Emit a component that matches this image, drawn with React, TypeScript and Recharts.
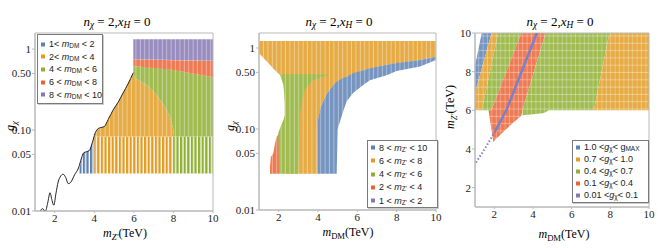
import React from 'react';
import { ComposedChart, Area, Line, XAxis, YAxis, ReferenceArea } from 'recharts';

type Rng = [number, number, number];
type Pt = [number, number];

const C = { blue: '#5E81B5', orange: '#E19C24', green: '#8FB032', red: '#EB6235', purple: '#8778B3' };
const F = { blue: '#7694c0', orange: '#e6ab45', green: '#a0bc51', red: '#ee7a53', purple: '#998cbe' };

const xTicks = [2, 4, 6, 8, 10];
const logTicks = [0.01, 0.05, 0.1, 0.5, 1];
const logTickLabels: Record<string, string> = { '0.01': '0.01', '0.05': '0.05', '0.1': '0.10', '0.5': '0.50', '1': '1' };
const linTicks = [2, 4, 6, 8, 10];

// ---------- Panel 1 : g_chi vs m_Z' (colour = m_DM) ----------
const p1Bound: Pt[] = [
  [1.25, 0.0097], [1.38, 0.0107], [1.52, 0.0099], [1.64, 0.0125], [1.76, 0.0168], [1.86, 0.0135],
  [1.95, 0.0118], [2.06, 0.0165], [2.17, 0.0228], [2.3, 0.027], [2.42, 0.0285], [2.55, 0.026],
  [2.68, 0.0218], [2.8, 0.0225], [3.0, 0.028], [3.2, 0.034], [3.35, 0.045], [3.45, 0.052],
  [3.6, 0.054], [3.75, 0.056], [3.9, 0.07], [4.03, 0.09], [4.15, 0.102], [4.3, 0.107], [4.5, 0.11],
  [4.7, 0.135], [4.95, 0.177], [5.2, 0.22], [5.45, 0.286], [5.7, 0.37], [5.97, 0.51],
];
const p1BlueStripe: Rng[] = [
  [3.25, 0.029, 0.033], [3.35, 0.029, 0.045], [3.45, 0.029, 0.052], [3.6, 0.029, 0.054],
  [3.75, 0.029, 0.056], [3.9, 0.029, 0.07], [4.0, 0.029, 0.085],
];
const p1OrangeStripe: Rng[] = [[4.0, 0.029, 0.083], [8.03, 0.029, 0.083]];
const p1OrangeDense: Rng[] = [
  [4.0, 0.083, 0.085], [4.03, 0.083, 0.09], [4.15, 0.083, 0.102], [4.3, 0.083, 0.107], [4.5, 0.083, 0.11],
  [4.7, 0.083, 0.135], [4.95, 0.083, 0.177], [5.2, 0.083, 0.22], [5.45, 0.083, 0.286], [5.7, 0.083, 0.37],
  [5.97, 0.083, 0.5], [6.06, 0.083, 0.435], [6.65, 0.083, 0.36], [7.15, 0.083, 0.27], [7.57, 0.083, 0.194],
  [7.83, 0.083, 0.146], [8.0, 0.083, 0.1], [8.03, 0.083, 0.083],
];
const p1GreenStripe: Rng[] = [[8.03, 0.029, 0.083], [10, 0.029, 0.083]];
const p1GreenDense: Rng[] = [
  [5.97, 0.5, 0.62], [6.06, 0.435, 0.615], [6.65, 0.36, 0.6], [7.15, 0.27, 0.585], [7.57, 0.194, 0.57],
  [7.83, 0.146, 0.56], [8.0, 0.1, 0.55], [8.03, 0.083, 0.55], [9.0, 0.083, 0.5], [10, 0.083, 0.45],
];
const p1Red: Rng[] = [[5.97, 0.62, 0.75], [8.0, 0.55, 0.73], [10, 0.45, 0.72]];
const p1Purple: Rng[] = [[5.97, 0.75, 1.32], [10, 0.72, 1.32]];

// ---------- Panel 2 : g_chi vs m_DM (colour = m_Z') ----------
const p2Orange: Rng[] = [
  [1.0, 0.86, 1.22], [1.47, 0.65, 1.22], [1.81, 0.53, 1.22], [2.07, 0.465, 1.22], [2.3, 0.465, 1.22],
  [2.32, 0.028, 1.22], [3.98, 0.028, 1.22], [4.0, 0.13, 1.22], [4.19, 0.2, 1.22], [4.44, 0.27, 1.22],
  [4.78, 0.35, 1.22], [5.46, 0.44, 1.22], [6.3, 0.53, 1.22], [7.49, 0.62, 1.22], [9.19, 0.71, 1.22],
  [10, 0.78, 1.22],
];
const p2Blue: Rng[] = [
  [3.98, 0.028, 0.03], [4.0, 0.028, 0.13], [4.1, 0.028, 0.17], [4.19, 0.028, 0.2], [4.44, 0.028, 0.27],
  [4.78, 0.028, 0.35], [4.95, 0.028, 0.38], [5.0, 0.1, 0.39], [5.3, 0.17, 0.43], [5.46, 0.22, 0.44],
  [5.8, 0.28, 0.49], [6.3, 0.35, 0.53], [6.64, 0.4, 0.56], [7.49, 0.46, 0.62], [8.0, 0.52, 0.65],
  [9.19, 0.59, 0.71], [10, 0.71, 0.78],
];
const p2Red: Rng[] = [
  [1.56, 0.028, 0.034], [1.6, 0.028, 0.045], [1.73, 0.028, 0.05], [1.81, 0.028, 0.066],
  [1.9, 0.028, 0.08], [2.0, 0.028, 0.087], [2.02, 0.028, 0.087],
];
const p2GreenLow: Rng[] = [
  [1.98, 0.085, 0.089], [2.02, 0.028, 0.095], [2.07, 0.028, 0.103], [2.24, 0.028, 0.129], [2.32, 0.028, 0.15],
];
const p2GreenTop: Rng[] = [[2.07, 0.46, 0.475], [2.24, 0.35, 0.475], [2.32, 0.21, 0.475]];
const p2GreenMain: Rng[] = [
  [2.32, 0.028, 0.475], [3.0, 0.028, 0.475], [3.08, 0.15, 0.475], [3.17, 0.21, 0.475], [3.34, 0.31, 0.475],
  [3.76, 0.4, 0.475], [4.36, 0.45, 0.475], [4.6, 0.47, 0.475],
];

// ---------- Panel 3 : m_Z' vs m_DM (colour = g_chi) ----------
const p3Blue: Rng[] = [[1.0, 6.9, 8.3], [1.35, 8.16, 10], [1.86, 10, 10]];
const p3OrangeL: Rng[] = [[1.0, 6, 6.9], [1.35, 6, 8.16], [1.86, 8.4, 10], [2.2, 10, 10]];
const p3GreenL: Rng[] = [[1.35, 6, 6], [1.85, 6, 8.35], [2.2, 6.9, 10], [3.4, 10, 10]];
const p3Red: Rng[] = [
  [1.7, 6, 6], [1.85, 5.0, 6], [1.95, 4.35, 6.26], [2.03, 4.47, 6.46], [2.38, 4.8, 7.37], [2.8, 5.2, 8.45],
  [3.2, 5.55, 9.5], [3.4, 5.72, 10], [3.45, 6, 10], [4.65, 10, 10],
];
const p3GreenR: Rng[] = [
  [3.45, 5.75, 6], [4.0, 5.8, 7.83], [4.5, 5.85, 9.5], [4.65, 5.9, 10], [4.8, 6, 10], [7.15, 6, 10], [7.95, 10, 10],
];
const p3OrangeR: Rng[] = [[7.15, 6, 6], [7.95, 6, 10], [10, 6, 10]];
const p3PurpleLow: Pt[] = [[1.05, 3.3], [1.5, 4.0], [2.03, 4.9]];
const p3PurpleHigh: Pt[] = [[2.03, 4.9], [2.62, 6.0], [4.2, 10]];

function buildTable(ranges: Record<string, Rng[]>, lines: Record<string, Pt[]> = {}) {
  const rows: Record<string, any>[] = [];
  Object.entries(ranges).forEach(([k, arr]) => arr.forEach(([x, lo, hi]) => rows.push({ x, [k]: [lo, hi] })));
  Object.entries(lines).forEach(([k, arr]) => arr.forEach(([x, y]) => rows.push({ x, [k]: y })));
  return rows.sort((a, b) => a.x - b.x);
}

const t1 = buildTable(
  { bS: p1BlueStripe, oS: p1OrangeStripe, gS: p1GreenStripe, oD: p1OrangeDense, gD: p1GreenDense, r: p1Red, p: p1Purple },
  { bound: p1Bound },
);
const t2 = buildTable({ o: p2Orange, b: p2Blue, r: p2Red, gL: p2GreenLow, gT: p2GreenTop, gM: p2GreenMain });
const t3 = buildTable(
  { b: p3Blue, oL: p3OrangeL, gL: p3GreenL, r: p3Red, gR: p3GreenR, oR: p3OrangeR },
  { pLo: p3PurpleLow, pHi: p3PurpleHigh },
);

const tickStyle = { fill: '#222', fontSize: 11, fontFamily: '"Liberation Serif", serif' };
const axisStroke = '#b8b8b8';

function area(key: string, fill: string) {
  return (
    <Area key={key} dataKey={key} type="linear" stroke="none" fill={fill} fillOpacity={1}
      connectNulls isAnimationActive={false} dot={false} activeDot={false} />
  );
}

// texture patterns: s = vertical stripes, d = dense with faint vertical gaps, g = faint grid
function Patterns({ prefix }: { prefix: string }) {
  return (
    <defs>
      {Object.entries(C).map(([k, col]) => (
        <React.Fragment key={k}>
          <pattern id={`${prefix}-s-${k}`} patternUnits="userSpaceOnUse" width="3.6" height="8">
            <rect width="2.3" height="8" fill={col} />
          </pattern>
          <pattern id={`${prefix}-d-${k}`} patternUnits="userSpaceOnUse" width="4.4" height="8">
            <rect width="4.4" height="8" fill={(F as any)[k]} />
            <rect x="3.4" width="1" height="8" fill="#fff" fillOpacity="0.4" />
          </pattern>
          <pattern id={`${prefix}-g-${k}`} patternUnits="userSpaceOnUse" width="4.4" height="7.3">
            <rect width="4.4" height="7.3" fill={(F as any)[k]} />
            <rect x="3.4" width="1" height="7.3" fill="#fff" fillOpacity="0.3" />
            <rect y="6.3" width="4.4" height="1" fill="#fff" fillOpacity="0.35" />
          </pattern>
        </React.Fragment>
      ))}
    </defs>
  );
}

function Panel1() {
  return (
    <ComposedChart width={220} height={248} data={t1} margin={{ top: 33, right: 7, bottom: 12, left: 8 }}>
      <Patterns prefix="a" />
      <XAxis type="number" dataKey="x" domain={[1, 10]} ticks={xTicks} allowDataOverflow
        stroke={axisStroke} tick={tickStyle} tickSize={2} tickMargin={1} height={25} />
      <YAxis type="number" scale="log" domain={[0.01, 1.58]} ticks={logTicks} allowDataOverflow
        tickFormatter={(v: number) => logTickLabels[String(v)]} stroke={axisStroke} tick={tickStyle}
        tickSize={3} tickMargin={1} width={27} />
      {area('bS', 'url(#a-s-blue)')}
      {area('oS', 'url(#a-s-orange)')}
      {area('gS', 'url(#a-s-green)')}
      {area('oD', 'url(#a-d-orange)')}
      {area('gD', 'url(#a-d-green)')}
      {area('r', 'url(#a-d-red)')}
      {area('p', 'url(#a-d-purple)')}
      <Line dataKey="bound" type="monotone" stroke="#222" strokeWidth={1} dot={false} activeDot={false}
        connectNulls isAnimationActive={false} />
      <ReferenceArea x1={1} x2={10} y1={0.01} y2={1.58} fill="none" stroke={axisStroke} />
    </ComposedChart>
  );
}

function Panel2() {
  return (
    <ComposedChart width={224} height={248} data={t2} margin={{ top: 33, right: 8, bottom: 13, left: 8 }}>
      <Patterns prefix="b" />
      <XAxis type="number" dataKey="x" domain={[1, 10]} ticks={xTicks} allowDataOverflow
        stroke={axisStroke} tick={tickStyle} tickSize={2} tickMargin={1} height={25} />
      <YAxis type="number" scale="log" domain={[0.01, 1.53]} ticks={logTicks} allowDataOverflow
        tickFormatter={(v: number) => logTickLabels[String(v)]} stroke={axisStroke} tick={tickStyle}
        tickSize={3} tickMargin={1} width={31} />
      {area('o', 'url(#b-d-orange)')}
      {area('b', 'url(#b-d-blue)')}
      {area('r', 'url(#b-d-red)')}
      {area('gL', 'url(#b-d-green)')}
      {area('gT', 'url(#b-d-green)')}
      {area('gM', 'url(#b-d-green)')}
      <ReferenceArea x1={1} x2={10} y1={0.01} y2={1.53} fill="none" stroke={axisStroke} />
    </ComposedChart>
  );
}

function Panel3() {
  return (
    <ComposedChart width={220} height={248} data={t3} margin={{ top: 33, right: 15, bottom: 16, left: 8 }}>
      <Patterns prefix="c" />
      <XAxis type="number" dataKey="x" domain={[1, 10]} ticks={xTicks} allowDataOverflow
        stroke={axisStroke} tick={tickStyle} tickSize={2} tickMargin={1} height={25} />
      <YAxis type="number" domain={[1, 10]} ticks={linTicks} allowDataOverflow stroke={axisStroke}
        tick={tickStyle} tickSize={3} tickMargin={1} width={23} />
      {area('b', 'url(#c-g-blue)')}
      {area('oL', 'url(#c-g-orange)')}
      {area('gL', 'url(#c-g-green)')}
      {area('r', 'url(#c-g-red)')}
      {area('gR', 'url(#c-g-green)')}
      {area('oR', 'url(#c-g-orange)')}
      <Line dataKey="pLo" type="linear" stroke="#7d80c6" strokeWidth={2} strokeDasharray="1.5 2"
        dot={false} activeDot={false} connectNulls isAnimationActive={false} />
      <Line dataKey="pHi" type="linear" stroke="#7d80c6" strokeWidth={2.5}
        dot={false} activeDot={false} connectNulls isAnimationActive={false} />
      <ReferenceArea x1={1} x2={10} y1={1} y2={10} fill="none" stroke={axisStroke} />
    </ComposedChart>
  );
}

const serif = '"Liberation Serif", "Times New Roman", serif';
const sans = '"Liberation Sans", Arial, sans-serif';
const subS: React.CSSProperties = { fontSize: '0.72em', verticalAlign: '-0.3em', lineHeight: 0 };

function Title({ cx }: { cx: number }) {
  return (
    <div style={{ position: 'absolute', left: cx, top: 21, transform: 'translate(-50%,-50%)', fontFamily: serif, fontSize: 13, whiteSpace: 'nowrap', lineHeight: 1 }}>
      <i>n</i><sub style={subS}><i>χ</i></sub> = 2,<i>x</i><sub style={subS}><i>H</i></sub> = 0
    </div>
  );
}

function Label({ cx, cy, rotate, children }: { cx: number; cy: number; rotate?: boolean; children: React.ReactNode }) {
  return (
    <div style={{ position: 'absolute', left: cx, top: cy, transform: `translate(-50%,-50%)${rotate ? ' rotate(-90deg)' : ''}`, fontFamily: serif, fontSize: 12, whiteSpace: 'nowrap', lineHeight: 1 }}>
      {children}
    </div>
  );
}

type LegItem = { color: string; pre: string; v: string; sub: string; post: string };
const leg1: LegItem[] = [
  { color: C.blue, pre: '1< ', v: 'm', sub: 'DM', post: ' < 2' },
  { color: C.orange, pre: '2< ', v: 'm', sub: 'DM', post: ' < 4' },
  { color: C.green, pre: '4 < ', v: 'm', sub: 'DM', post: ' < 6' },
  { color: C.red, pre: '6 < ', v: 'm', sub: 'DM', post: ' < 8' },
  { color: C.purple, pre: '8 < ', v: 'm', sub: 'DM', post: ' < 10' },
];
const leg2: LegItem[] = [
  { color: C.blue, pre: '8 < ', v: 'm', sub: "Z'", post: ' < 10' },
  { color: C.orange, pre: '6 < ', v: 'm', sub: "Z'", post: ' < 8' },
  { color: C.green, pre: '4 < ', v: 'm', sub: "Z'", post: ' < 6' },
  { color: C.red, pre: '2 < ', v: 'm', sub: "Z'", post: ' < 4' },
  { color: C.purple, pre: '1 < ', v: 'm', sub: "Z'", post: ' < 2' },
];
const leg3: LegItem[] = [
  { color: C.blue, pre: '1.0 <', v: 'g', sub: 'χ', post: '< g' },
  { color: C.orange, pre: '0.7 <', v: 'g', sub: 'χ', post: '< 1.0' },
  { color: C.green, pre: '0.4 <', v: 'g', sub: 'χ', post: '< 0.7' },
  { color: C.red, pre: '0.1 <', v: 'g', sub: 'χ', post: '< 0.4' },
  { color: C.purple, pre: '0.01 <', v: 'g', sub: 'χ', post: '< 0.1' },
];

function Legend({ left, top, width, height, items, first, gap, maxSub }: { left: number; top: number; width: number; height: number; items: LegItem[]; first: number; gap: number; maxSub?: boolean }) {
  return (
    <div style={{ position: 'absolute', left, top, width, height, border: '1px solid #7a7a7a', background: '#fff', boxSizing: 'border-box', boxShadow: '1px 1px 0 #ccc' }}>
      {items.map((it, i) => (
        <div key={i} style={{ position: 'absolute', left: 3, top: first + i * gap, transform: 'translateY(-50%)', display: 'flex', alignItems: 'center', fontFamily: sans, fontSize: 9, whiteSpace: 'nowrap', lineHeight: 1, color: '#222' }}>
          <span style={{ display: 'inline-block', width: 4, height: 4, background: it.color, marginRight: 4 }} />
          <span>
            {it.pre}<i>{it.v}</i><sub style={subS}>{it.sub}</sub>{it.post}
            {maxSub && i === 0 ? <sub style={subS}>MAX</sub> : null}
          </span>
        </div>
      ))}
    </div>
  );
}

export default function App() {
  return (
    <div style={{ position: 'absolute', left: 0, top: 0, width: 664, height: 248, background: '#fff', overflow: 'hidden' }}>
      <div style={{ position: 'absolute', left: 0, top: 0 }}><Panel1 /></div>
      <div style={{ position: 'absolute', left: 220, top: 0 }}><Panel2 /></div>
      <div style={{ position: 'absolute', left: 444, top: 0 }}><Panel3 /></div>

      <Title cx={117} />
      <Title cx={339} />
      <Title cx={560} />

      <Label cx={125} cy={233}><i>m</i><sub style={subS}><i>Z'</i></sub>(TeV)</Label>
      <Label cx={348} cy={232}><i>m</i><sub style={subS}>DM</sub>(TeV)</Label>
      <Label cx={564} cy={234}><i>m</i><sub style={subS}>DM</sub>(TeV)</Label>
      <Label cx={10} cy={126} rotate><i>g</i><sub style={subS}><i>χ</i></sub></Label>
      <Label cx={230} cy={126} rotate><i>g</i><sub style={subS}><i>χ</i></sub></Label>
      <Label cx={450} cy={107} rotate><i>m</i><sub style={subS}><i>Z'</i></sub>(TeV)</Label>

      <Legend left={37} top={34} width={66} height={70} items={leg1} first={9} gap={12.7} />
      <Legend left={367} top={140} width={71} height={68} items={leg2} first={6.5} gap={13.3} />
      <Legend left={572} top={140} width={77} height={63} items={leg3} first={6} gap={12} maxSub />
    </div>
  );
}
